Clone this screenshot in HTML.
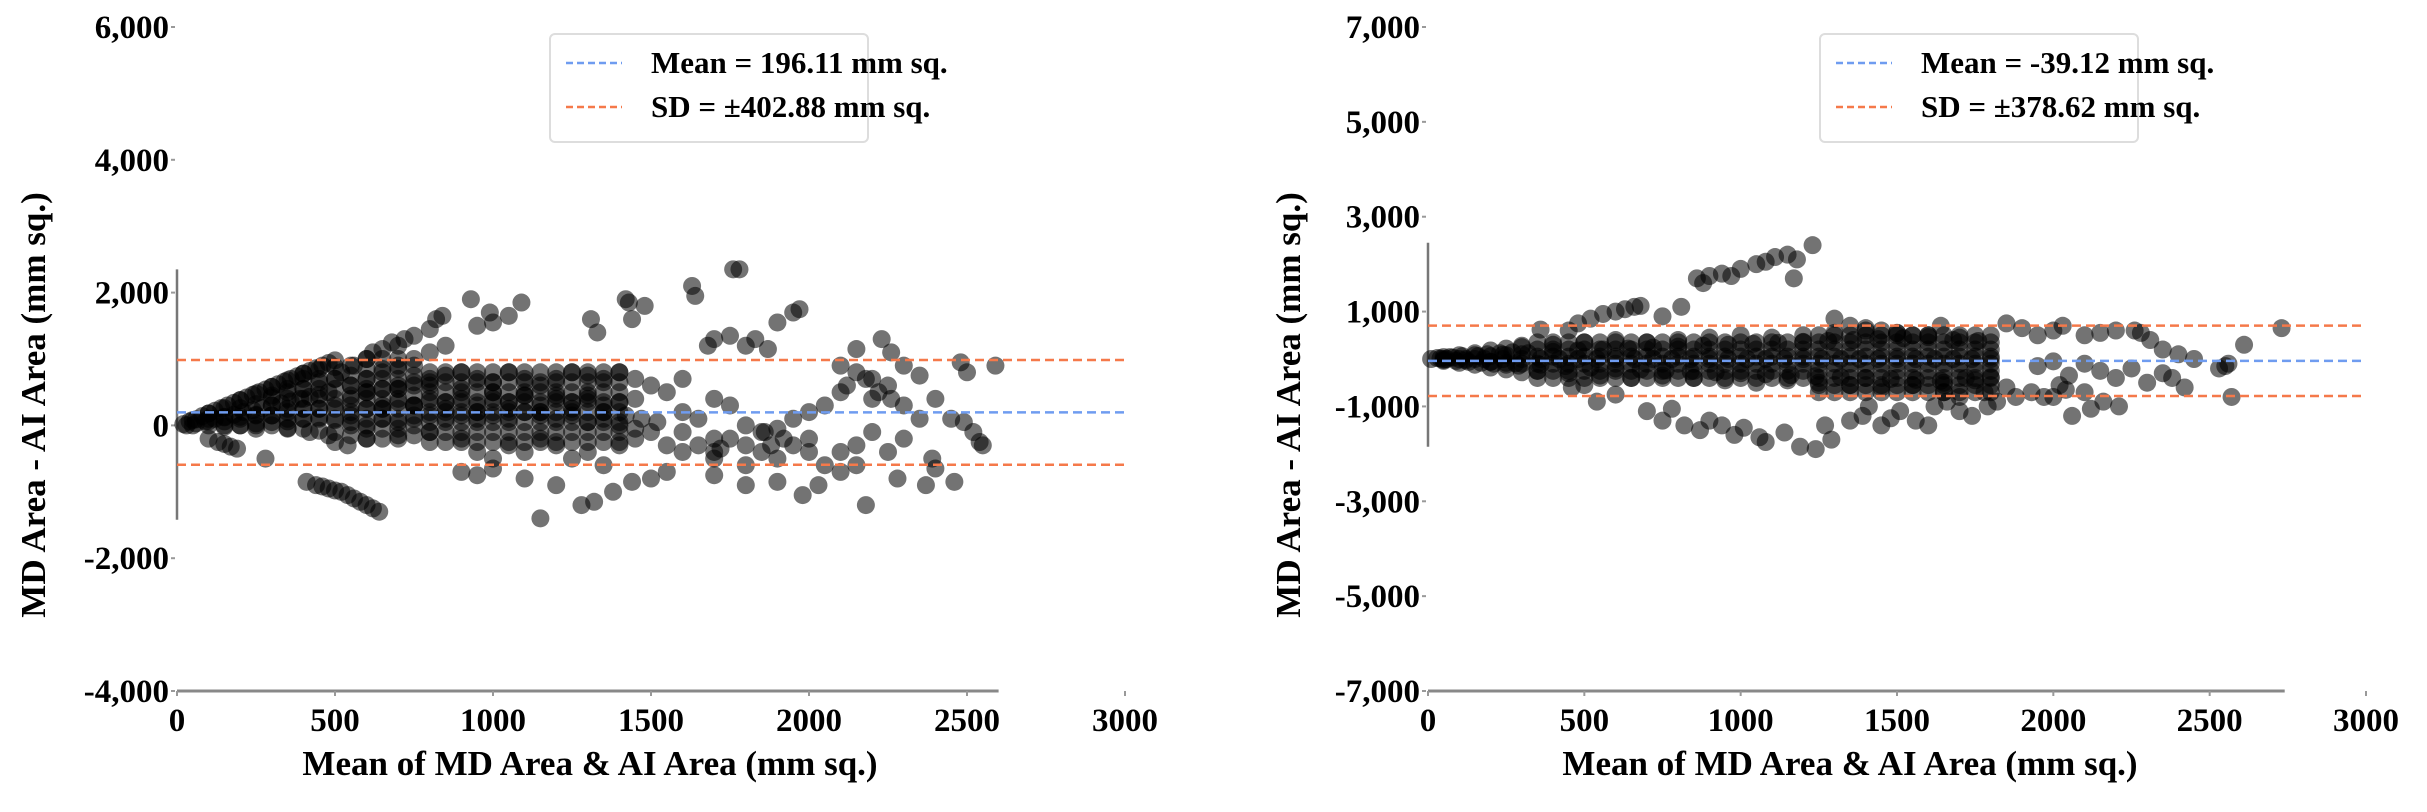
<!DOCTYPE html>
<html><head><meta charset="utf-8"><style>
body{margin:0;background:#fff}
svg{display:block}
text{font-family:"Liberation Serif",serif;font-weight:bold;fill:#000}
</style></head><body>
<svg id="fig" width="2427" height="812" viewBox="0 0 2427 812" xmlns="http://www.w3.org/2000/svg"></svg>
<script>
// ---------- Left chart data ----------
const leftX = [20,40,60,80,100,120,140,160,180,200,220,240,260,280,300,320,340,360,380,400,420,440,460,480,500,30,60,90,120,150,180,210,240,270,300,330,360,390,420,450,480,100,150,200,250,300,350,400,450,500,200,250,300,350,400,450,500,150,250,350,420,480,500,540,300,350,400,450,500,520,550,560,600,620,650,680,700,720,750,800,820,840,600,650,700,750,800,850,550,600,650,700,750,800,850,900,950,1000,1050,1100,1150,1200,1250,1300,1350,1400,1450,550,600,650,700,750,800,850,900,950,1000,1050,1100,1150,1200,1250,1300,1350,1400,1450,550,600,650,700,750,800,850,900,950,1000,1050,1100,1150,1200,1250,1300,1350,1400,1450,600,700,800,900,950,1000,1050,1100,1150,1200,1250,1300,1350,1400,1450,1500,1550,1600,1650,1700,1750,1800,1850,1900,1950,2000,2050,2100,2150,2200,900,950,1000,1100,1200,1280,1150,1320,1380,1440,1500,1550,1700,1800,1900,1980,2030,2180,2280,2370,2460,2400,2550,640,620,600,580,560,540,520,500,480,460,440,410,100,130,150,170,190,280,930,990,1050,1090,950,1000,1310,1330,1420,1430,1440,1480,1630,1640,1760,1780,1900,1950,1970,1700,1680,1750,1800,1830,1870,2150,2230,2260,2300,2350,2480,2500,2590,2100,2150,2200,2250,2200,2300,2350,2100,2050,2000,1950,1850,1800,1600,1650,1550,1500,1600,1700,1750,2400,2450,2520,2490,2540,1600,1700,1800,1900,2000,2100,2150,2250,2300,2390,2120,2180,2220,2260,1880,1920,1860,1700,1720,600,700,800,900,1000,1100,1200,1300,650,750,850,950,1050,1150,1250,1350,1420,1470,1520];
const leftY = [20,60,90,140,180,220,260,300,340,380,420,460,500,540,580,620,660,700,740,780,820,860,900,940,980,0,30,60,100,130,160,200,230,260,300,330,360,400,430,460,500,60,60,100,150,150,200,250,250,300,0,30,50,60,100,120,100,-20,-50,-40,-100,-150,-250,-300,420,500,550,650,700,800,600,900,1000,1100,1150,1250,1200,1300,1350,1450,1600,1650,700,800,900,1000,1100,1200,400,500,550,600,650,700,750,800,700,650,800,700,600,700,800,750,700,800,700,200,250,300,350,300,400,350,400,300,400,350,450,300,400,350,450,300,350,400,50,0,100,50,100,150,100,150,100,150,100,200,150,100,150,50,100,0,-50,-200,-150,-100,-200,-400,-500,-300,-400,-200,-300,-500,-400,-600,-300,-200,-100,-300,-400,-300,-500,-200,-600,-400,-500,-300,-200,-600,-400,-300,-100,-700,-750,-650,-800,-900,-1200,-1400,-1150,-1000,-850,-800,-700,-750,-900,-850,-1050,-900,-1200,-800,-900,-850,-650,-300,-1300,-1250,-1200,-1150,-1100,-1050,-1000,-980,-950,-920,-900,-850,-200,-250,-280,-320,-350,-500,1900,1700,1650,1850,1500,1550,1600,1400,1900,1850,1600,1800,2100,1950,2350,2350,1550,1700,1750,1300,1200,1350,1200,1300,1150,1150,1300,1100,900,750,950,800,900,900,800,700,600,400,300,100,500,300,200,100,-100,0,200,100,500,600,700,400,300,400,100,-100,50,-250,-100,-200,-300,-50,-400,-700,-600,-400,-200,-500,600,700,500,400,-300,-200,-100,-400,-350,500,550,600,550,500,450,450,400,250,300,250,200,250,200,250,200,150,100,50];
const leftDenseX = [50,50,100,100,100,150,150,150,200,200,200,200,250,250,250,250,300,300,300,300,300,350,350,350,350,350,350,400,400,400,400,400,400,400,450,450,450,450,450,450,450,500,500,500,500,500,500,500,550,550,550,550,550,550,550,550,600,600,600,600,600,600,600,600,600,650,650,650,650,650,650,650,650,650,700,700,700,700,700,700,700,700,700,750,750,750,750,750,750,750,750,800,800,800,800,800,800,800,800,850,850,850,850,850,850,850,850,900,900,900,900,900,900,900,900,950,950,950,950,950,950,950,950,1000,1000,1000,1000,1000,1000,1000,1000,1050,1050,1050,1050,1050,1050,1050,1050,1100,1100,1100,1100,1100,1100,1100,1100,1150,1150,1150,1150,1150,1150,1150,1150,1200,1200,1200,1200,1200,1200,1200,1200,1250,1250,1250,1250,1250,1250,1250,1250,1300,1300,1300,1300,1300,1300,1300,1300,1350,1350,1350,1350,1350,1350,1350,1350,1400,1400,1400,1400,1400,1400,1400,1400];
const leftDenseY = [0,80,0,100,180,0,120,260,0,130,260,380,0,160,320,480,0,150,300,450,580,-50,100,250,400,550,680,-50,100,250,400,550,700,780,-80,100,250,400,550,700,850,-100,80,250,400,550,700,880,-150,0,150,300,450,600,750,900,-200,-50,100,250,400,550,700,850,1000,-200,-50,100,250,400,550,700,850,1000,-200,-50,100,250,400,550,700,850,1000,-150,0,150,300,450,600,750,900,-250,-100,50,200,350,500,650,800,-250,-100,50,200,350,500,650,800,-250,-100,50,200,350,500,650,800,-250,-100,50,200,350,500,650,800,-250,-100,50,200,350,500,650,800,-250,-100,50,200,350,500,650,800,-250,-100,50,200,350,500,650,800,-250,-100,50,200,350,500,650,800,-250,-100,50,200,350,500,650,800,-250,-100,50,200,350,500,650,800,-250,-100,50,200,350,500,650,800,-250,-100,50,200,350,500,650,800,-250,-100,50,200,350,500,650,800];
const leftMean = 196.11;
const leftSD = 402.88;
// ---------- Right chart data ----------
const rightX = [10,30,50,70,90,110,130,150,170,190,210,230,250,270,290,40,80,120,160,200,240,280,320,360,400,440,480,520,560,600,640,680,720,760,800,840,880,920,960,1000,1040,1080,1120,1160,1200,1240,1280,1320,1360,1400,1440,1480,1520,1560,1600,1640,1680,1720,1760,1800,60,120,180,240,300,360,420,480,540,600,660,720,780,840,900,960,1020,1080,1140,1200,1260,1320,1380,1440,1500,1560,1620,1680,1740,1800,300,350,400,450,500,550,600,650,700,750,800,850,900,950,1000,1050,1100,1150,1200,1250,1300,1350,1400,1450,1500,1550,1600,1650,1700,1750,450,480,520,560,600,630,660,680,360,750,810,880,860,900,940,970,1000,1050,1080,1110,1150,1180,1230,1170,1300,1350,1400,1450,1500,1550,1640,1850,1900,1950,2000,2030,2100,2150,2200,2260,2280,2310,2350,2400,2450,2560,2610,2730,1950,2000,2050,2100,2150,2200,2250,2300,2350,2380,2420,2530,2550,2570,2040,2020,2160,2210,2060,2120,2000,2100,1850,1780,1700,1650,460,500,540,600,700,750,780,820,870,900,940,980,1010,1060,1080,1140,1190,1240,1270,1290,1350,1390,1410,1450,1480,1510,1560,1600,1620,1660,1700,1740,1790,1820,1880,1930,1970];
const rightY = [0,20,-20,40,-40,60,-60,80,-80,100,-100,120,-120,140,-140,10,30,-30,60,-60,90,-90,120,-120,150,-150,180,-180,200,-200,220,-220,240,-240,260,-260,280,-280,300,-300,320,-320,340,-340,360,-360,380,-380,400,-400,420,-420,440,-440,460,-460,400,-400,380,-380,0,0,0,0,0,0,0,0,0,0,0,0,0,0,0,0,0,0,0,0,0,0,0,0,0,0,0,0,0,0,250,-250,300,-300,350,-350,400,-400,350,-350,400,-400,450,-450,500,-500,450,-450,500,-500,550,-550,600,-600,550,-550,500,-500,450,-450,600,750,850,950,1000,1050,1100,1120,620,900,1100,1600,1700,1750,1800,1750,1900,2000,2050,2150,2200,2100,2400,1700,850,700,650,600,550,500,700,750,650,500,600,700,500,550,600,600,550,400,200,100,0,-100,300,650,-150,-50,-350,-100,-250,-400,-200,-500,-300,-400,-600,-200,-150,-800,-650,-550,-900,-1000,-1200,-1050,-800,-700,-600,-700,-800,-700,-600,-550,-900,-750,-1100,-1300,-1050,-1400,-1500,-1300,-1400,-1600,-1450,-1650,-1750,-1550,-1850,-1900,-1400,-1700,-1300,-1200,-1000,-1400,-1250,-1100,-1300,-1400,-1000,-900,-1100,-1200,-1000,-900,-800,-700,-800];
const rightDenseX = [50,50,50,100,100,100,150,150,150,200,200,200,200,250,250,250,250,300,300,300,300,350,350,350,350,350,350,400,400,400,400,400,400,450,450,450,450,450,450,500,500,500,500,500,500,550,550,550,550,550,550,600,600,600,600,600,600,650,650,650,650,650,650,700,700,700,700,700,700,750,750,750,750,750,750,800,800,800,800,800,800,850,850,850,850,850,850,900,900,900,900,900,900,950,950,950,950,950,950,1000,1000,1000,1000,1000,1000,1050,1050,1050,1050,1050,1050,1100,1100,1100,1100,1100,1100,1150,1150,1150,1150,1150,1150,1200,1200,1200,1200,1200,1200,1250,1250,1250,1250,1250,1250,1250,1250,1250,1300,1300,1300,1300,1300,1300,1300,1300,1300,1350,1350,1350,1350,1350,1350,1350,1350,1350,1400,1400,1400,1400,1400,1400,1400,1400,1400,1450,1450,1450,1450,1450,1450,1450,1450,1450,1500,1500,1500,1500,1500,1500,1500,1500,1500,1550,1550,1550,1550,1550,1550,1550,1550,1550,1600,1600,1600,1600,1600,1600,1600,1600,1600,1650,1650,1650,1650,1650,1650,1650,1650,1650,1700,1700,1700,1700,1700,1700,1700,1700,1700,1750,1750,1750,1750,1750,1750,1750,1750,1750,1800,1800,1800,1800,1800,1800,1800,1800,1800];
const rightDenseY = [-40,0,40,-80,0,80,-120,0,120,-180,-60,60,180,-220,-80,80,220,-280,-100,100,280,-400,-250,-100,50,200,350,-400,-250,-100,50,200,350,-400,-250,-100,50,200,350,-400,-250,-100,50,200,350,-400,-250,-100,50,200,350,-400,-250,-100,50,200,350,-400,-250,-100,50,200,350,-400,-250,-100,50,200,350,-400,-250,-100,50,200,350,-400,-250,-100,50,200,350,-400,-250,-100,50,200,350,-400,-250,-100,50,200,350,-400,-250,-100,50,200,350,-400,-250,-100,50,200,350,-400,-250,-100,50,200,350,-400,-250,-100,50,200,350,-400,-250,-100,50,200,350,-400,-250,-100,50,200,350,-700,-550,-400,-250,-100,50,200,350,500,-700,-550,-400,-250,-100,50,200,350,500,-700,-550,-400,-250,-100,50,200,350,500,-700,-550,-400,-250,-100,50,200,350,500,-700,-550,-400,-250,-100,50,200,350,500,-700,-550,-400,-250,-100,50,200,350,500,-700,-550,-400,-250,-100,50,200,350,500,-700,-550,-400,-250,-100,50,200,350,500,-700,-550,-400,-250,-100,50,200,350,500,-700,-550,-400,-250,-100,50,200,350,500,-700,-550,-400,-250,-100,50,200,350,500,-700,-550,-400,-250,-100,50,200,350,500];
const rightMean = -39.12;
const rightSD = 378.62;
// ---------- Tick arrays ----------
const xTicks = [0,500,1000,1500,2000,2500,3000];
const leftYTicks = [-4000,-2000,0,2000,4000,6000];
const leftYLabels = ["-4,000","-2,000","0","2,000","4,000","6,000"];
const rightYTicks = [-7000,-5000,-3000,-1000,1000,3000,5000,7000];
const rightYLabels = ["-7,000","-5,000","-3,000","-1,000","1,000","3,000","5,000","7,000"];

const NS = "http://www.w3.org/2000/svg";
const svg = document.getElementById('fig');
function mk(tag, attrs, parent){
  const e = document.createElementNS(NS, tag);
  for (const k in attrs) e.setAttribute(k, attrs[k]);
  (parent||svg).appendChild(e);
  return e;
}

function drawChart(cfg){
  const g = mk('g', {});
  
  
  const sx = v => cfg.x0 + (v - 0) * (cfg.x1 - cfg.x0) / 3000;
  const sy = v => cfg.yBot + (v - cfg.yMin) * (cfg.yTop - cfg.yBot) / (cfg.yMax - cfg.yMin);
  const ys = mk('line', {x1:cfg.x0, x2:cfg.x0, y1:sy(cfg.spineTop), y2:sy(cfg.spineBot), stroke:'#777', 'stroke-width':2.5}, g);
  
  
  const xs = mk('line', {x1:cfg.x0, x2:sx(cfg.spineRight), y1:sy(cfg.yMin), y2:sy(cfg.yMin), stroke:'#888', 'stroke-width':3}, g);
  
  
  xTicks.forEach(t => {
    mk('line', {x1:sx(t), x2:sx(t), y1:sy(cfg.yMin), y2:sy(cfg.yMin)+5, stroke:'#999', 'stroke-width':2}, g);
    const tx = mk('text', {x:sx(t), y:sy(cfg.yMin)+40, 'text-anchor':'middle', 'font-size':33}, g);
    tx.textContent = t;
    
    
  });
  cfg.yTicks.forEach((t, i) => {
    mk('line', {x1:cfg.x0-6, x2:cfg.x0-2, y1:sy(t), y2:sy(t), stroke:'#999', 'stroke-width':2}, g);
    const tx = mk('text', {x:cfg.x0-8, y:sy(t)+11, 'text-anchor':'end', 'font-size':33}, g);
    tx.textContent = cfg.yLabels[i];
    
    
  });
  const pg = mk('g', {fill:'#000', 'fill-opacity':0.55}, g);
  
  
  const allX = cfg.px.concat(cfg.dx);
  const allY = cfg.py.concat(cfg.dy);
  allX.forEach((v, i) => {
    const c = mk('circle', {cx:sx(v), cy:sy(allY[i]), r:9}, pg);
    
    
  });
  const lx2 = sx(3000);
  const ml = mk('line', {x1:cfg.x0, x2:lx2, y1:sy(cfg.mean), y2:sy(cfg.mean), stroke:'#6f9cf0', 'stroke-width':2.5, 'stroke-dasharray':'9 5'}, g);
  
  
  [cfg.mean + 1.96*cfg.sd, cfg.mean - 1.96*cfg.sd].forEach(v => {
    const l = mk('line', {x1:cfg.x0, x2:lx2, y1:sy(v), y2:sy(v), stroke:'#f5794a', 'stroke-width':2.5, 'stroke-dasharray':'9 5'}, g);
    
    
  });
  const xt = mk('text', {x:cfg.xTitleX, y:775, 'text-anchor':'middle', 'font-size':35}, g);
  xt.textContent = 'Mean of MD Area & AI Area (mm sq.)';
  
  
  const yt = mk('text', {x:0, y:0, 'text-anchor':'middle', 'font-size':35, transform:`translate(${cfg.yTitleX},${cfg.yTitleY}) rotate(-90)`}, g);
  yt.textContent = 'MD Area - AI Area (mm sq.)';
  
  
  const lg = mk('g', {}, g);
  
  
  mk('rect', {x:cfg.legX, y:34, width:318, height:108, rx:5, fill:'#fff', stroke:'#ddd', 'stroke-width':2}, lg);
  const entries = [['#6f9cf0', cfg.meanLabel, 73], ['#f5794a', cfg.sdLabel, 117]];
  entries.forEach(en => {
    const e = mk('g', {}, lg);
    
    
    mk('line', {x1:cfg.legX+16, x2:cfg.legX+72, y1:en[2]-10, y2:en[2]-10, stroke:en[0], 'stroke-width':2.5, 'stroke-dasharray':'7 4'}, e);
    const t = mk('text', {x:cfg.legX+101, y:en[2], 'font-size':31}, e);
    t.textContent = en[1];
  });
}

drawChart({name:'left-chart', x0:177, x1:1125, yBot:691, yTop:27, yMin:-4000, yMax:6000,
  spineTop:2350, spineBot:-1420, spineRight:2600, yTicks:leftYTicks, yLabels:leftYLabels,
  px:leftX, py:leftY, dx:leftDenseX, dy:leftDenseY, mean:leftMean, sd:leftSD, xTitleX:590, yTitleX:45, yTitleY:405,
  legX:550, meanLabel:'Mean = 196.11 mm sq.', sdLabel:'SD = ±402.88 mm sq.'});
drawChart({name:'right-chart', x0:1428, x1:2366, yBot:691, yTop:27, yMin:-7000, yMax:7000,
  spineTop:2450, spineBot:-1850, spineRight:2740, yTicks:rightYTicks, yLabels:rightYLabels,
  px:rightX, py:rightY, dx:rightDenseX, dy:rightDenseY, mean:rightMean, sd:rightSD, xTitleX:1850, yTitleX:1300, yTitleY:405,
  legX:1820, meanLabel:'Mean = -39.12 mm sq.', sdLabel:'SD = ±378.62 mm sq.'});
</script>
</body></html>
